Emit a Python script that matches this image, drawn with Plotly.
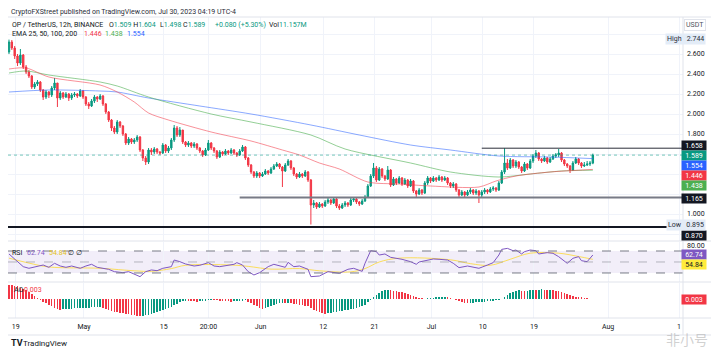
import plotly.graph_objects as go
from plotly.subplots import make_subplots
import pandas as pd

# ---------------- data ----------------
start_time = "2023-04-17 20:00"          # first 12h candle, UTC-4
first_open = 2.62
closes = [2.72, 2.66, 2.58, 2.51, 2.59, 2.47, 2.42, 2.38, 2.27, 2.30,
          2.32, 2.24, 2.17, 2.22, 2.19, 2.26, 2.31, 2.16, 2.21, 2.17,
          2.20, 2.16, 2.19, 2.20, 2.18, 2.23, 2.17, 2.10, 2.08, 2.13,
          2.17, 2.15, 2.18, 2.10, 2.02, 1.94, 1.86, 1.82, 1.92, 1.88,
          1.80, 1.71, 1.75, 1.72, 1.74, 1.77, 1.64, 1.56, 1.52, 1.64,
          1.62, 1.65, 1.62, 1.61, 1.69, 1.63, 1.66, 1.74, 1.86, 1.79,
          1.84, 1.72, 1.69, 1.71, 1.68, 1.70, 1.66, 1.63, 1.59, 1.64,
          1.71, 1.66, 1.63, 1.57, 1.62, 1.60, 1.63, 1.61, 1.64, 1.61,
          1.59, 1.63, 1.67, 1.56, 1.49, 1.42, 1.38, 1.41, 1.38, 1.40,
          1.43, 1.41, 1.45, 1.48, 1.50, 1.47, 1.43, 1.49, 1.53, 1.46,
          1.40, 1.37, 1.40, 1.38, 1.42, 1.34, 1.09, 1.11, 1.07, 1.10,
          1.08, 1.12, 1.14, 1.11, 1.15, 1.08, 1.06, 1.09, 1.11, 1.09,
          1.14, 1.15, 1.12, 1.10, 1.13, 1.17, 1.28, 1.38, 1.46, 1.34,
          1.45, 1.38, 1.35, 1.44, 1.29, 1.35, 1.31, 1.36, 1.30, 1.34,
          1.28, 1.33, 1.23, 1.20, 1.24, 1.21, 1.31, 1.36, 1.33, 1.36,
          1.34, 1.37, 1.34, 1.36, 1.31, 1.28, 1.30, 1.24, 1.19, 1.22,
          1.19, 1.22, 1.24, 1.21, 1.23, 1.19, 1.22, 1.24, 1.22, 1.25,
          1.26, 1.24, 1.31, 1.42, 1.51, 1.46, 1.54, 1.48, 1.52, 1.47,
          1.43, 1.50, 1.46, 1.53, 1.58, 1.61, 1.55, 1.53, 1.56, 1.52,
          1.55, 1.58, 1.59, 1.61, 1.54, 1.50, 1.48, 1.44, 1.51, 1.55,
          1.51, 1.48, 1.49, 1.50, 1.509, 1.589]
highs = [2.744, 2.74, 2.68, 2.60, 2.65, 2.60, 2.49, 2.44, 2.39, 2.32,
         2.34, 2.33, 2.25, 2.24, 2.23, 2.28, 2.36, 2.31, 2.23, 2.22,
         2.22, 2.21, 2.21, 2.22, 2.21, 2.25, 2.24, 2.18, 2.12, 2.15,
         2.19, 2.18, 2.20, 2.19, 2.11, 2.03, 1.95, 1.88, 1.94, 1.93,
         1.89, 1.81, 1.77, 1.76, 1.76, 1.79, 1.78, 1.65, 1.58, 1.66,
         1.66, 1.67, 1.66, 1.63, 1.71, 1.70, 1.68, 1.76, 1.89, 1.88,
         1.87, 1.84, 1.73, 1.73, 1.72, 1.72, 1.71, 1.67, 1.64, 1.66,
         1.74, 1.72, 1.67, 1.64, 1.64, 1.63, 1.65, 1.64, 1.66, 1.65,
         1.62, 1.65, 1.69, 1.68, 1.57, 1.50, 1.43, 1.43, 1.42, 1.42,
         1.45, 1.44, 1.47, 1.50, 1.52, 1.51, 1.48, 1.51, 1.55, 1.54,
         1.47, 1.41, 1.42, 1.41, 1.44, 1.43, 1.35, 1.14, 1.12, 1.12,
         1.11, 1.14, 1.16, 1.15, 1.17, 1.16, 1.10, 1.11, 1.13, 1.12,
         1.16, 1.17, 1.16, 1.13, 1.15, 1.19, 1.30, 1.40, 1.51, 1.48,
         1.47, 1.46, 1.39, 1.48, 1.45, 1.37, 1.36, 1.38, 1.37, 1.36,
         1.35, 1.35, 1.34, 1.24, 1.26, 1.25, 1.33, 1.38, 1.37, 1.38,
         1.37, 1.39, 1.38, 1.38, 1.37, 1.32, 1.32, 1.31, 1.25, 1.24,
         1.23, 1.24, 1.26, 1.25, 1.25, 1.24, 1.24, 1.26, 1.25, 1.27,
         1.28, 1.27, 1.33, 1.44, 1.658, 1.55, 1.56, 1.55, 1.54, 1.53,
         1.48, 1.52, 1.51, 1.55, 1.60, 1.64, 1.62, 1.56, 1.58, 1.57,
         1.57, 1.60, 1.61, 1.65, 1.62, 1.55, 1.51, 1.49, 1.53, 1.57,
         1.56, 1.52, 1.52, 1.53, 1.53, 1.604]
lows = [2.60, 2.64, 2.55, 2.48, 2.49, 2.45, 2.40, 2.36, 2.25, 2.25,
        2.28, 2.22, 2.14, 2.15, 2.16, 2.17, 2.24, 2.07, 2.14, 2.15,
        2.16, 2.13, 2.14, 2.17, 2.16, 2.17, 2.15, 2.08, 2.05, 2.07,
        2.11, 2.12, 2.14, 2.08, 2.00, 1.92, 1.83, 1.80, 1.80, 1.86,
        1.78, 1.69, 1.69, 1.70, 1.70, 1.72, 1.62, 1.53, 1.49, 1.50,
        1.59, 1.60, 1.60, 1.59, 1.60, 1.61, 1.61, 1.64, 1.72, 1.77,
        1.77, 1.70, 1.67, 1.67, 1.66, 1.66, 1.64, 1.61, 1.57, 1.58,
        1.63, 1.64, 1.61, 1.55, 1.56, 1.58, 1.59, 1.59, 1.60, 1.59,
        1.57, 1.58, 1.62, 1.54, 1.47, 1.40, 1.36, 1.36, 1.36, 1.37,
        1.39, 1.39, 1.40, 1.44, 1.47, 1.45, 1.27, 1.42, 1.48, 1.44,
        1.38, 1.35, 1.36, 1.36, 1.37, 1.32, 0.895, 1.06, 1.05, 1.06,
        1.06, 1.07, 1.10, 1.09, 1.10, 1.06, 1.04, 1.05, 1.07, 1.07,
        1.08, 1.12, 1.10, 1.08, 1.09, 1.12, 1.16, 1.27, 1.36, 1.32,
        1.33, 1.36, 1.33, 1.34, 1.27, 1.28, 1.29, 1.30, 1.28, 1.29,
        1.26, 1.27, 1.21, 1.17, 1.19, 1.19, 1.20, 1.29, 1.31, 1.32,
        1.32, 1.33, 1.32, 1.33, 1.29, 1.26, 1.26, 1.22, 1.17, 1.18,
        1.17, 1.18, 1.20, 1.19, 1.19, 1.11, 1.17, 1.20, 1.20, 1.21,
        1.23, 1.22, 1.23, 1.30, 1.40, 1.44, 1.45, 1.46, 1.46, 1.45,
        1.41, 1.42, 1.44, 1.45, 1.51, 1.56, 1.53, 1.51, 1.52, 1.50,
        1.51, 1.54, 1.56, 1.57, 1.52, 1.48, 1.46, 1.41, 1.43, 1.50,
        1.49, 1.46, 1.47, 1.48, 1.48, 1.498]

# EMA lines: (candle index, value)
ema25_idx = [0, 6, 14, 32, 38, 44, 49, 56, 71, 85, 96, 102, 109, 116, 126, 137, 148, 165, 171, 178, 190, 205]
ema25_val = [2.45, 2.46, 2.37, 2.29, 2.22, 2.12, 2.01, 1.94, 1.82, 1.73, 1.64, 1.59, 1.51, 1.45, 1.32, 1.30, 1.28, 1.27, 1.33, 1.38, 1.42, 1.446]
ema50_idx = [0, 6, 14, 32, 38, 49, 71, 85, 106, 118, 141, 155, 172, 183, 194, 205]
ema50_val = [2.41, 2.43, 2.39, 2.32, 2.28, 2.17, 2.00, 1.92, 1.79, 1.65, 1.51, 1.42, 1.37, 1.40, 1.43, 1.438]
ema100_idx = [0, 14, 32, 38, 49, 67, 85, 106, 123, 141, 155, 172, 190, 205]
ema100_val = [2.22, 2.24, 2.23, 2.22, 2.16, 2.08, 2.00, 1.89, 1.79, 1.69, 1.64, 1.58, 1.57, 1.554]

# RSI line and its moving average: (candle index, value)
rsi_idx = [0, 2, 3, 5, 7, 10, 12, 14, 16, 18, 20, 22, 25, 27, 29, 31, 33, 35, 37, 40,
           42, 44, 46, 48, 50, 52, 54, 57, 58, 60, 62, 65, 67, 70, 72, 74, 77, 79, 80, 82,
           84, 86, 88, 91, 93, 95, 97, 98, 100, 102, 105, 106, 109, 112, 114, 116, 119, 121, 124, 125,
           127, 129, 130, 132, 134, 136, 138, 141, 143, 144, 147, 149, 151, 154, 156, 158, 161, 163, 165, 168,
           170, 172, 173, 175, 177, 178, 180, 181, 183, 185, 186, 189, 191, 193, 195, 196, 198, 200, 201, 203, 205]
rsi_val = [64.6, 54.9, 50.6, 41.5, 38.5, 41.5, 44.5, 40.3, 47.6, 42.7, 40.3, 42.7, 38.5, 42.7, 45.8, 40.3, 38.5, 36.7, 32.4, 30.6,
           32.4, 28.2, 23.3, 32.4, 35.5, 34.2, 38.5, 41.5, 53.6, 50.6, 46.4, 42.7, 44.0, 48.8, 42.7, 41.5, 44.5, 45.8, 48.8, 44.5,
           32.4, 26.4, 30.6, 41.5, 45.8, 42.7, 40.3, 49.4, 41.5, 42.7, 36.7, 23.3, 24.5, 32.4, 30.6, 29.4, 36.7, 38.5, 33.0, 47.6,
           70.6, 68.8, 62.7, 64.6, 58.5, 56.7, 54.9, 50.6, 45.8, 50.0, 53.6, 55.5, 54.9, 53.6, 47.6, 39.7, 42.7, 40.3, 38.5, 44.5,
           48.8, 62.7, 73.0, 74.8, 70.6, 71.8, 64.6, 68.8, 71.8, 70.6, 64.6, 67.0, 65.8, 59.7, 50.6, 47.6, 56.7, 59.7, 52.4, 50.6, 62.74]
rsi_ma_idx = [0, 7, 14, 32, 44, 50, 57, 62, 78, 84, 92, 102, 109, 120, 125, 130, 137, 155, 162, 169, 176, 183, 193, 200, 205]
rsi_ma_val = [57, 48, 41, 38.5, 34, 33, 38, 44, 44.5, 42, 37, 38, 34, 32, 38, 50, 57, 54, 47, 44, 55, 66, 66, 60, 54.84]
rsi_levels = [70, 50, 30]

# Awesome Oscillator, one value per candle
ao_vals = [0.29, 0.28, 0.27, 0.26, 0.23, 0.21, 0.18, 0.15, 0.11, 0.07, 0.03, -0.01, -0.05, -0.08, -0.11, -0.14, -0.17, -0.19, -0.21,
           -0.205, -0.20, -0.195, -0.19, -0.188, -0.185, -0.18, -0.178, -0.175, -0.17, -0.168, -0.165, -0.16, -0.158,
           -0.17, -0.19, -0.21, -0.23, -0.25, -0.26, -0.27, -0.28, -0.29, -0.30, -0.31, -0.32, -0.33, -0.34,
           -0.33, -0.32, -0.31, -0.30, -0.28, -0.26, -0.24, -0.22, -0.20, -0.18, -0.15, -0.12, -0.09, -0.06, -0.04,
           -0.03, -0.035, -0.04, -0.045, -0.05, -0.045, -0.04, -0.03, -0.02, -0.015,
           -0.02, -0.025, -0.03, -0.035, -0.04, -0.045, -0.05,
           -0.045, -0.04, -0.035, -0.03, -0.025,
           -0.05, -0.08, -0.11, -0.14, -0.17, -0.19,
           -0.18, -0.16, -0.14, -0.12, -0.10, -0.08, -0.07,
           -0.075, -0.07,
           -0.08, -0.09, -0.10, -0.11, -0.12, -0.13, -0.14, -0.17, -0.21, -0.24, -0.26, -0.28, -0.29,
           -0.28, -0.27, -0.26, -0.25, -0.24, -0.23, -0.22, -0.21, -0.20, -0.19, -0.18, -0.16, -0.14, -0.11, -0.06, -0.01,
           0.04, 0.09, 0.13, 0.16, 0.18, 0.19,
           0.18, 0.17, 0.16, 0.15, 0.14, 0.13, 0.11, 0.09, 0.07, 0.05, 0.03, 0.02, 0.01,
           0.015, 0.02, 0.03, 0.035, 0.04, 0.045, 0.05,
           0.04, 0.02, 0.00, -0.02, -0.04, -0.06, -0.07, -0.08,
           -0.075, -0.07, -0.065, -0.06, -0.055, -0.05, -0.045, -0.04, -0.03, -0.02, -0.01, 0.01, 0.05, 0.09, 0.12, 0.15, 0.17, 0.18,
           0.17, 0.16, 0.17, 0.18, 0.19, 0.185, 0.19, 0.195, 0.19, 0.185, 0.19, 0.18, 0.17, 0.16,
           0.14, 0.12, 0.10, 0.08, 0.06, 0.05, 0.04, 0.035, 0.03, 0.02, 0.01, 0.003]

# horizontal levels drawn on the chart
resistance = 1.658
resistance_from = "2023-07-09 20:00"
support = 1.165
support_from = "2023-05-28 08:00"
low_line = 0.870
last_price = 1.589

# axes
x_range = ["2023-04-17 15:50", "2023-08-14 03:51"]
x_tick_dates = ["2023-04-19", "2023-05-01", "2023-05-15", "2023-05-22 20:00", "2023-06-01", "2023-06-12",
                "2023-06-21", "2023-07-01", "2023-07-10", "2023-07-19", "2023-08-01", "2023-08-13 11:00"]
x_tick_text = ["19", "May", "15", "20:00", "Jun", "12", "21", "Jul", "10", "19", "Aug", "1"]
price_ticks = [0.8, 1.0, 1.2, 1.4, 1.6, 1.8, 2.0, 2.2, 2.4, 2.6, 2.8]
price_tick_text = ["", "1.000", "", "", "", "1.800", "2.000", "2.200", "2.400", "2.600", ""]

# right-axis value tags: (text, background, text colour, pixel row)
price_tags = [("1.658", "#131722", "white", 145), ("1.589", "#089981", "white", 155.3),
              ("1.554", "#2962ff", "white", 165.5), ("1.446", "#f23645", "white", 175.7),
              ("1.438", "#4caf50", "white", 185.9), ("1.165", "#131722", "white", 198),
              ("0.870", "#131722", "white", 235.2), ("62.74", "#7e57c2", "white", 254.5),
              ("54.84", "#ffeb3b", "#131722", 264.6), ("0.003", "#f23645", "white", 299.5)]

# header / legend pieces: (text, colour, left pixel, row pixel)
UP, DN = "#089981", "#f23645"
legend_pieces = [
    ("CryptoFXStreet published on TradingView.com, Jul 30, 2023 04:19 UTC-4", "#2a2e39", 9, 12),
    ("OP / TetherUS, 12h, BINANCE", "#131722", 10, 25),
    ("O<span style='color:#089981'>1.509</span> H<span style='color:#089981'>1.604</span>", "#131722", 107, 25),
    ("L<span style='color:#089981'>1.498</span> C<span style='color:#089981'>1.589</span>", "#131722", 158, 25),
    ("+0.080 (+5.30%)", UP, 213, 25),
    ("Vol<span style='color:#089981'>11.157M</span>", "#131722", 267, 25),
    ("EMA 25, 50, 100, 200", "#131722", 10, 34),
    ("1.446", "#f23645", 82, 34),
    ("1.438", "#4caf50", 103, 34),
    ("1.554", "#2962ff", 125, 34),
    ("RSI", "#131722", 10, 253),
    ("62.74", "#7e57c2", 25, 253),
    ("54.84", "#e3c21c", 47, 253),
    ("∅ ∅", "#131722", 66, 253),
    ("AO", "#131722", 12, 290),
    ("0.003", "#f23645", 22, 290),
]

# ---------------- figure ----------------
# The page keeps the browser's default 8 px body margin, so the figure is
# sized to fill the 719x356 window exactly from (8, 8).
FONT = "Roboto"
OFF = 8
W, H = 719 - 2 * OFF, 356 - 2 * OFF
PLOT_L, PLOT_R, PLOT_T, PLOT_B = 8, 683, 17, 318     # plot area in window pixels
ML, MR = PLOT_L - OFF, W - (PLOT_R - OFF)
MT, MB = PLOT_T - OFF, H - (PLOT_B - OFF)
PW, PH = PLOT_R - PLOT_L, PLOT_B - PLOT_T


def px(x):
    return (x - PLOT_L) / PW


def py(y):
    return (PLOT_B - y) / PH


times = pd.date_range(start_time, periods=len(closes), freq="12h")
opens = [first_open] + closes[:-1]

fig = make_subplots(rows=3, cols=1, shared_xaxes=True, vertical_spacing=0)

fig.add_trace(go.Candlestick(
    x=times, open=opens, high=highs, low=lows, close=closes,
    increasing=dict(line=dict(color=UP, width=1), fillcolor=UP),
    decreasing=dict(line=dict(color=DN, width=1), fillcolor=DN),
    whiskerwidth=0, hoverinfo="skip"), row=1, col=1)

for idx, val, col in [(ema100_idx, ema100_val, "rgba(41,98,255,0.55)"),
                      (ema50_idx, ema50_val, "rgba(76,175,80,0.6)"),
                      (ema25_idx, ema25_val, "rgba(242,54,69,0.55)")]:
    fig.add_trace(go.Scatter(x=times[idx], y=val, mode="lines",
                             line=dict(color=col, width=1, shape="spline", smoothing=0.8),
                             hoverinfo="skip"), row=1, col=1)

fig.add_trace(go.Scatter(x=times[rsi_ma_idx], y=rsi_ma_val, mode="lines",
                         line=dict(color="rgba(253,216,53,0.8)", width=1, shape="spline"),
                         hoverinfo="skip"), row=2, col=1)
fig.add_trace(go.Scatter(x=times[rsi_idx], y=rsi_val, mode="lines",
                         line=dict(color="#7e57c2", width=1), hoverinfo="skip"), row=2, col=1)

ao_colors = [DN] + [UP if ao_vals[i] >= ao_vals[i - 1] else DN for i in range(1, len(ao_vals))]
fig.add_trace(go.Bar(x=times, y=ao_vals, marker=dict(color=ao_colors, line=dict(width=0)),
                     width=12 * 3600 * 1000 * 0.55, hoverinfo="skip"), row=3, col=1)

axis_common = dict(range=x_range, tickvals=x_tick_dates, showgrid=True, gridcolor="#f0f3fa",
                   gridwidth=1, zeroline=False, showline=False, ticks="")
fig.update_layout(
    width=W, height=H, margin=dict(l=ML, r=MR, t=MT, b=MB, pad=0),
    paper_bgcolor="white", plot_bgcolor="white", showlegend=False, dragmode=False,
    bargap=0, font=dict(family=FONT, size=7, color="#131722"),
    xaxis=dict(**axis_common, showticklabels=False, rangeslider=dict(visible=False)),
    xaxis2=dict(**axis_common, showticklabels=False),
    xaxis3=dict(**axis_common, showticklabels=True, ticktext=x_tick_text,
                tickfont=dict(size=7, color="#131722"), ticklabelstandoff=3),
    yaxis=dict(domain=[py(240.5), 1], range=[0.735, 2.97], side="right", tickvals=price_ticks,
               ticktext=price_tick_text, showgrid=True, gridcolor="#f0f3fa", zeroline=False,
               ticks="", tickfont=dict(size=7, color="#131722"), ticklabelstandoff=3),
    yaxis2=dict(domain=[py(281.5), py(241.5)], range=[14.5, 87.3], side="right", tickvals=[80],
                ticktext=["80.00"], showgrid=False, zeroline=False, ticks="",
                tickfont=dict(size=7, color="#131722"), ticklabelstandoff=3),
    yaxis3=dict(domain=[0, py(282.5)], range=[-0.38, 0.33], showticklabels=False, showgrid=False,
                zeroline=False),
)

shapes = []
# RSI band and levels
shapes.append(dict(type="rect", xref="x2 domain", yref="y2", x0=0, x1=1, y0=rsi_levels[2], y1=rsi_levels[0],
                   fillcolor="rgba(126,87,194,0.10)", line=dict(width=0), layer="below"))
for lv, col in zip(rsi_levels, ["#787b86", "rgba(120,123,134,0.5)", "#787b86"]):
    shapes.append(dict(type="line", xref="x2 domain", yref="y2", x0=0, x1=1, y0=lv, y1=lv,
                       line=dict(color=col, width=1, dash="dash")))
# price levels
shapes.append(dict(type="line", xref="x", yref="y", x0=x_range[0], x1=x_range[1], y0=last_price, y1=last_price,
                   line=dict(color="rgba(8,153,129,0.55)", width=1, dash="dot")))
shapes.append(dict(type="line", xref="x", yref="y", x0=resistance_from, x1=x_range[1], y0=resistance, y1=resistance,
                   line=dict(color="#2a2e39", width=1)))
shapes.append(dict(type="line", xref="x", yref="y", x0=support_from, x1=x_range[1], y0=support, y1=support,
                   line=dict(color="#787b86", width=2)))
shapes.append(dict(type="line", xref="x", yref="y", x0=x_range[0], x1=x_range[1], y0=low_line, y1=low_line,
                   line=dict(color="#131722", width=2)))
# pane separators and frame
for yy in [17, 241, 282, 318, 335]:
    shapes.append(dict(type="line", xref="paper", yref="paper", x0=px(OFF), x1=px(719 - OFF), y0=py(yy), y1=py(yy),
                       line=dict(color="#e0e3eb", width=1)))
shapes.append(dict(type="line", xref="paper", yref="paper", x0=1, x1=1, y0=py(335), y1=1,
                   line=dict(color="#e0e3eb", width=1)))
fig.update_layout(shapes=shapes)

ann = []


def text(x, y, s, size=7, color="#131722", anchor="left", family=FONT, **kw):
    ann.append(dict(xref="paper", yref="paper", x=px(x), y=py(y), text=s, showarrow=False,
                    xanchor=anchor, yanchor="middle", font=dict(size=size, color=color, family=family), **kw))


for s, bg, fc, yy in price_tags:
    text(681, yy, s, size=7, color=fc, bgcolor=bg, width=24, height=9, borderpad=0, align="center")

text(706, 39, "High   2.744", size=7, color="#2a2e39", anchor="right", bgcolor="#e3ecf7", borderpad=1)
text(706, 225, "Low   0.895", size=7, color="#2a2e39", anchor="right", bgcolor="#e3ecf7", borderpad=1)
text(695, 25, "USDT", size=7, color="#50535e", anchor="center", bordercolor="#e0e3eb", borderpad=1)

for s, col, xx, yy in legend_pieces:
    text(xx, yy, s, size=7, color=col)

text(9, 343, "<b>TV</b>", size=9, color="#131722")
text(21, 343, "TradingView", size=8, color="#131722")
text(710, 339, "非小号", size=14, color="rgba(170,170,170,0.55)", anchor="right", family="Noto Sans CJK SC")

fig.update_layout(annotations=ann)

fig.write_html("out.html", config={"displayModeBar": False, "staticPlot": True})
